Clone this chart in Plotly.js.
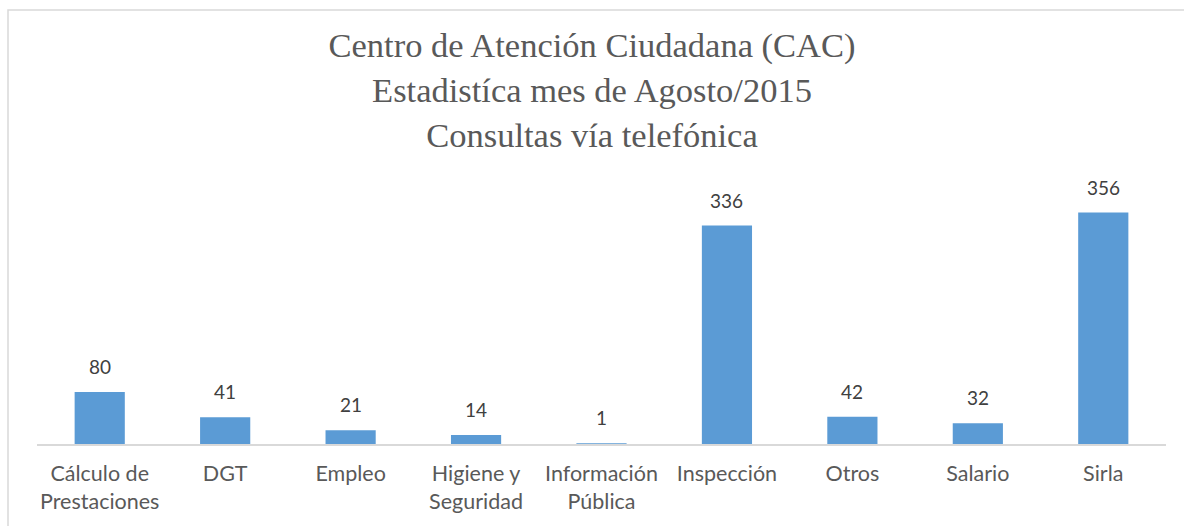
<!DOCTYPE html>
<html>
<head>
<meta charset="utf-8">
<script src="https://cdn.plot.ly/plotly-3.0.1.min.js"></script>
<style>
html,body{margin:0;padding:0;background:#fff;}
#chart{width:1184px;height:526px;}
</style>
</head>
<body>
<div id="chart"></div>
<script>
const categories = ["Cálculo de<br>Prestaciones", "DGT", "Empleo", "Higiene y<br>Seguridad", "Información<br>Pública", "Inspección", "Otros", "Salario", "Sirla"];
const values = [80, 41, 21, 14, 1, 336, 42, 32, 356];
const titleLines = ["Centro de Atención Ciudadana (CAC)", "Estadistíca mes de Agosto/2015", "Consultas vía telefónica"];

const W = 1184, H = 526;
const mL = 37, mR = 18, mT = 184, mB = 82;
const pw = W - mL - mR, ph = H - mT - mB;
const px = x => (x - mL) / pw;
const py = y => (H - mB - y) / ph;

const trace = {
  type: 'bar',
  x: categories,
  y: values,
  marker: {color: '#5B9BD5'},
  hoverinfo: 'none'
};

const annotations = categories.map((c, i) => ({
  x: c, y: values[i], xref: 'x', yref: 'y',
  text: String(values[i]), showarrow: false,
  yanchor: 'bottom', yshift: 12,
  font: {family: 'Lato, "Open Sans", sans-serif', size: 19, color: '#404040'}
}));

const layout = {
  width: W, height: H,
  margin: {l: mL, r: mR, t: mT, b: mB},
  paper_bgcolor: '#ffffff', plot_bgcolor: '#ffffff',
  showlegend: false,
  bargap: 0.6,
  title: {
    text: titleLines.join('<br>'),
    font: {family: '"Liberation Serif", "DejaVu Serif", serif', size: 34.5, color: '#595959'},
    x: 0.5, xanchor: 'center', y: 1 - 57 / H, yanchor: 'middle'
  },
  xaxis: {
    showline: true, linecolor: '#d9d9d9', linewidth: 1.5,
    ticks: '', showgrid: false, zeroline: false,
    ticklabelstandoff: 10,
    tickfont: {family: 'Lato, "Open Sans", sans-serif', size: 21.5, color: '#595959'},
    fixedrange: true
  },
  yaxis: {
    range: [0, 400], visible: false, showgrid: false, zeroline: false, fixedrange: true
  },
  annotations: annotations,
  shapes: [{
    type: 'rect', xref: 'paper', yref: 'paper',
    x0: px(8), x1: px(1200), y0: py(540), y1: py(10),
    line: {color: '#d9d9d9', width: 1.5}, fillcolor: 'rgba(0,0,0,0)', layer: 'below'
  }]
};

Plotly.newPlot('chart', [trace], layout, {displayModeBar: false, staticPlot: true});
</script>
</body>
</html>
